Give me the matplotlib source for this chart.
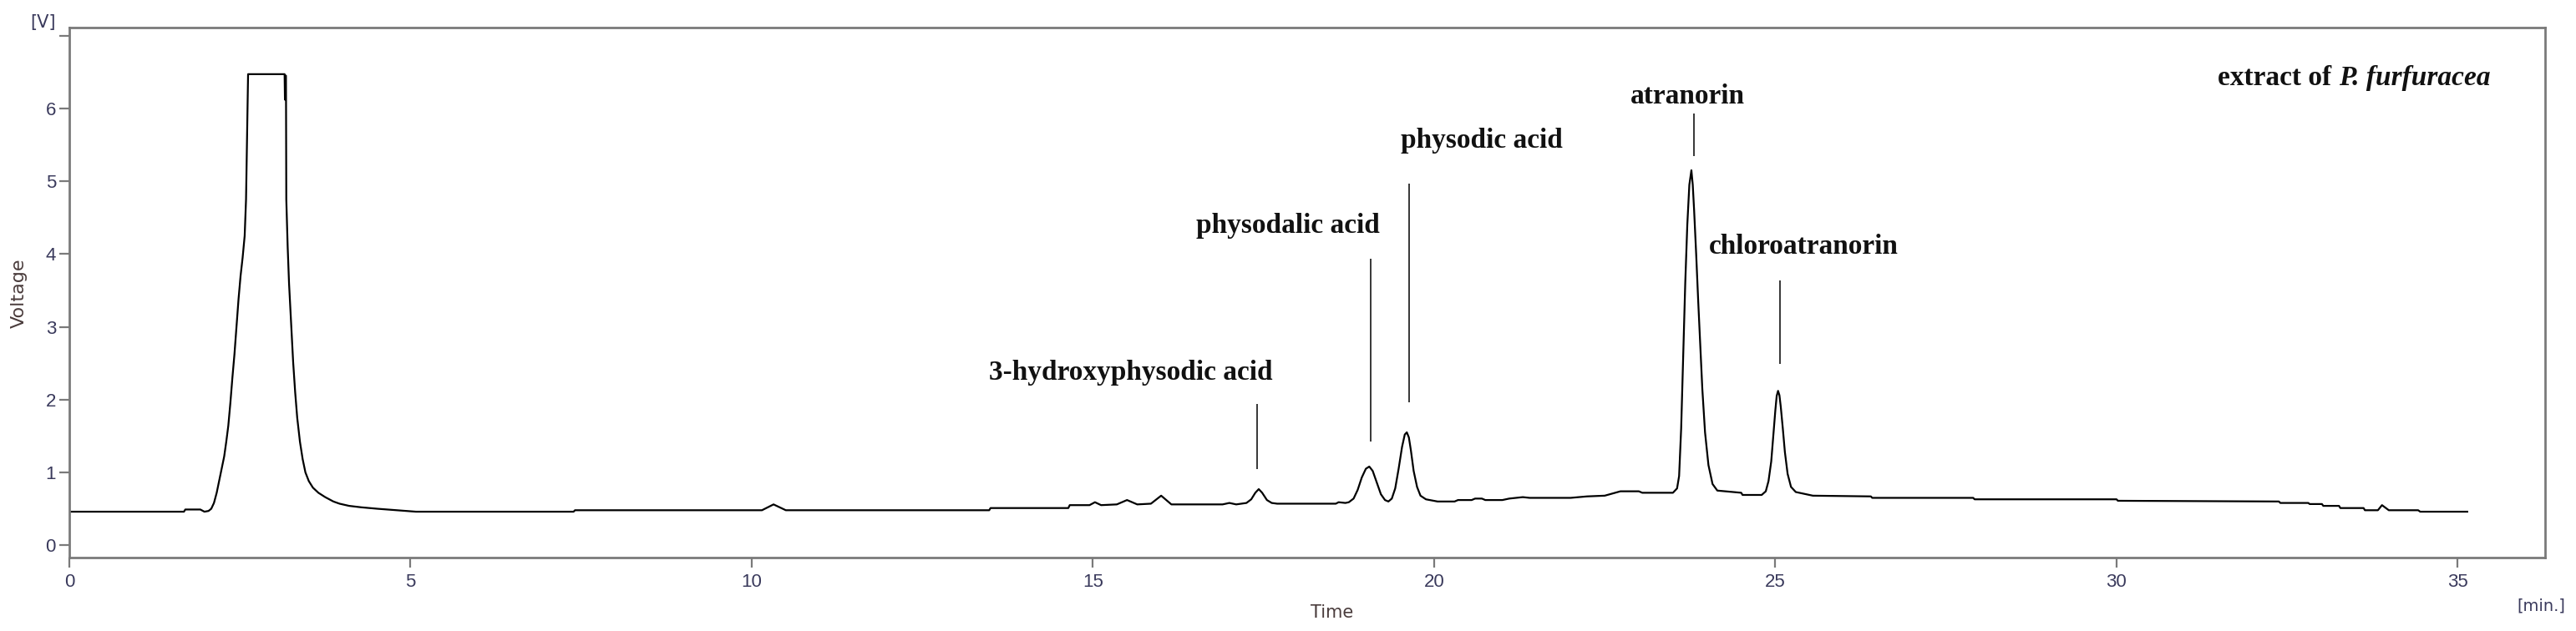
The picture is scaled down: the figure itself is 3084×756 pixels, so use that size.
"""Chromatogram: extract of P. furfuracea"""
import matplotlib
matplotlib.use("Agg")
import matplotlib.pyplot as plt

# trace: time [min] and voltage [V]
time_min = [0.0, 1.68, 1.70, 1.92, 1.98, 2.04, 2.08, 2.12, 2.16, 2.20,
            2.24, 2.27, 2.30, 2.33, 2.36, 2.39, 2.42, 2.45, 2.48, 2.51,
            2.54, 2.57, 2.59, 2.605, 2.62, 3.155, 3.16, 3.165, 3.175, 3.18,
            3.20, 3.22, 3.25, 3.28, 3.31, 3.34, 3.38, 3.42, 3.46, 3.51,
            3.57, 3.65, 3.75, 3.87, 3.96, 4.10, 4.28, 4.52, 4.80, 5.08,
            7.39, 7.41, 10.15, 10.32, 10.50, 13.48, 13.50, 14.64, 14.66, 14.95,
            15.03, 15.12, 15.35, 15.50, 15.65, 15.85, 16.00, 16.15, 16.90, 17.00,
            17.10, 17.25, 17.32, 17.38, 17.43, 17.48, 17.55, 17.62, 17.70, 18.56,
            18.60, 18.70, 18.75, 18.82, 18.88, 18.94, 19.00, 19.05, 19.10, 19.16,
            19.22, 19.28, 19.33, 19.38, 19.43, 19.48, 19.53, 19.57, 19.60, 19.63,
            19.66, 19.70, 19.75, 19.80, 19.88, 20.05, 20.30, 20.35, 20.55, 20.60,
            20.70, 20.75, 21.00, 21.10, 21.30, 21.40, 22.00, 22.24, 22.50, 22.73,
            23.00, 23.05, 23.50, 23.56, 23.59, 23.62, 23.65, 23.68, 23.71, 23.74,
            23.77, 23.79, 23.81, 23.84, 23.87, 23.90, 23.93, 23.97, 24.02, 24.08,
            24.15, 24.50, 24.52, 24.80, 24.86, 24.90, 24.94, 24.97, 25.00, 25.02,
            25.04, 25.06, 25.08, 25.11, 25.14, 25.18, 25.23, 25.30, 25.40, 25.55,
            26.40, 26.42, 27.90, 27.92, 30.00, 30.02, 32.38, 32.40, 32.81, 32.83,
            33.01, 33.03, 33.26, 33.28, 33.62, 33.64, 33.83, 33.89, 33.99, 34.42,
            34.45, 35.14]
voltage_v = [0.46, 0.46, 0.49, 0.49, 0.46, 0.47, 0.50, 0.58, 0.72, 0.90,
             1.08, 1.22, 1.42, 1.64, 1.95, 2.30, 2.62, 3.00, 3.38, 3.70,
             3.95, 4.25, 4.75, 5.60, 6.47, 6.47, 6.12, 6.45, 6.45, 4.75,
             4.10, 3.60, 3.07, 2.52, 2.10, 1.75, 1.42, 1.18, 1.00, 0.88,
             0.79, 0.72, 0.66, 0.60, 0.57, 0.54, 0.52, 0.50, 0.48, 0.46,
             0.46, 0.48, 0.48, 0.56, 0.48, 0.48, 0.51, 0.51, 0.55, 0.55,
             0.59, 0.55, 0.56, 0.62, 0.56, 0.57, 0.68, 0.56, 0.56, 0.58,
             0.56, 0.58, 0.63, 0.72, 0.77, 0.72, 0.62, 0.58, 0.57, 0.57,
             0.59, 0.58, 0.59, 0.64, 0.76, 0.93, 1.05, 1.08, 1.02, 0.86,
             0.70, 0.62, 0.60, 0.64, 0.78, 1.05, 1.35, 1.52, 1.55, 1.48,
             1.30, 1.02, 0.80, 0.68, 0.63, 0.60, 0.60, 0.62, 0.62, 0.64,
             0.64, 0.62, 0.62, 0.64, 0.66, 0.65, 0.65, 0.67, 0.68, 0.74,
             0.74, 0.72, 0.72, 0.78, 0.95, 1.60, 2.60, 3.60, 4.40, 4.95,
             5.15, 4.95, 4.60, 4.00, 3.35, 2.75, 2.15, 1.55, 1.10, 0.84,
             0.75, 0.72, 0.69, 0.69, 0.74, 0.88, 1.15, 1.50, 1.85, 2.05,
             2.12, 2.06, 1.90, 1.60, 1.28, 0.98, 0.80, 0.73, 0.71, 0.68,
             0.67, 0.65, 0.65, 0.63, 0.63, 0.61, 0.60, 0.58, 0.58, 0.565,
             0.565, 0.54, 0.54, 0.51, 0.51, 0.48, 0.48, 0.55, 0.48, 0.48,
             0.46, 0.46]

# peak labels: text, text x, text baseline y, marker x, marker from, marker to
peak_names = ["3-hydroxyphysodic acid", "physodalic acid", "physodic acid",
              "atranorin", "chloroatranorin"]
label_x = [15.55, 17.86, 20.70, 23.72, 25.42]
label_y = [2.27, 4.29, 5.46, 6.07, 4.00]
mark_x = [17.41, 19.07, 19.63, 23.81, 25.07]
mark_top = [1.94, 3.93, 4.97, 5.93, 3.64]
mark_bottom = [1.04, 1.42, 1.96, 5.34, 2.49]

x_ticks = [0, 5, 10, 15, 20, 25, 30, 35]
y_ticks = [0, 1, 2, 3, 4, 5, 6, 7]

axis_grey = "#7a7a7a"
tick_text = "#3a3a5c"
serif = ["Liberation Serif", "DejaVu Serif"]

fig = plt.figure(figsize=(30.84, 7.56), dpi=100)
ax = fig.add_axes([0.0269, 0.1164, 0.9611, 0.8399])

ax.plot(time_min, voltage_v, color="black", lw=1.6)

for name, tx, ty, mx, m0, m1 in zip(peak_names, label_x, label_y,
                                     mark_x, mark_top, mark_bottom):
    ax.text(tx, ty, name, ha="center", va="baseline", fontsize=24,
            fontweight="bold", family=serif, color="#111111")
    ax.vlines(mx, m1, m0, color="black", lw=1.1)

t1 = ax.text(33.15, 6.32, "extract of", ha="right", va="baseline", fontsize=24,
             fontweight="bold", family=serif, color="#111111")
ax.annotate("P. furfuracea", xy=(1, 0), xycoords=t1, xytext=(6, 0),
            textcoords="offset points", ha="left", va="bottom", fontsize=24,
            fontweight="bold", fontstyle="italic", family=serif, color="#111111")

ax.set_xlim(0, 36.28)
ax.set_ylim(-0.17, 7.11)
ax.set_xticks(x_ticks)
ax.set_xticklabels([str(t) for t in x_ticks])
ax.set_yticks(y_ticks)
ax.set_yticklabels([str(t) if t < 7 else "" for t in y_ticks])

for s in ax.spines.values():
    s.set_color(axis_grey)
    s.set_linewidth(2.0)
ax.tick_params(axis="both", direction="out", length=8.5, width=1.6,
               color=axis_grey, labelcolor=tick_text, labelsize=16)
ax.tick_params(axis="x", pad=5)
ax.tick_params(axis="y", pad=3)
for lab in ax.get_xticklabels() + ax.get_yticklabels():
    lab.set_family(["Liberation Sans", "DejaVu Sans"])

fig.text(52 / 3084, 1 - 27 / 756, "[V]", ha="center", va="center",
         fontsize=15, color=tick_text)
fig.text(3042 / 3084, 1 - 726 / 756, "[min.]", ha="center", va="center",
         fontsize=14, color=tick_text)
fig.text(1595 / 3084, 1 - 734 / 756, "Time", ha="center", va="center",
         fontsize=15, color="#4a3c3c")
fig.text(23 / 3084, 1 - 351 / 756, "Voltage", ha="center", va="center",
         rotation=90, fontsize=16, color="#4a3c3c")

fig.savefig("out.png", dpi=100, facecolor="white")
